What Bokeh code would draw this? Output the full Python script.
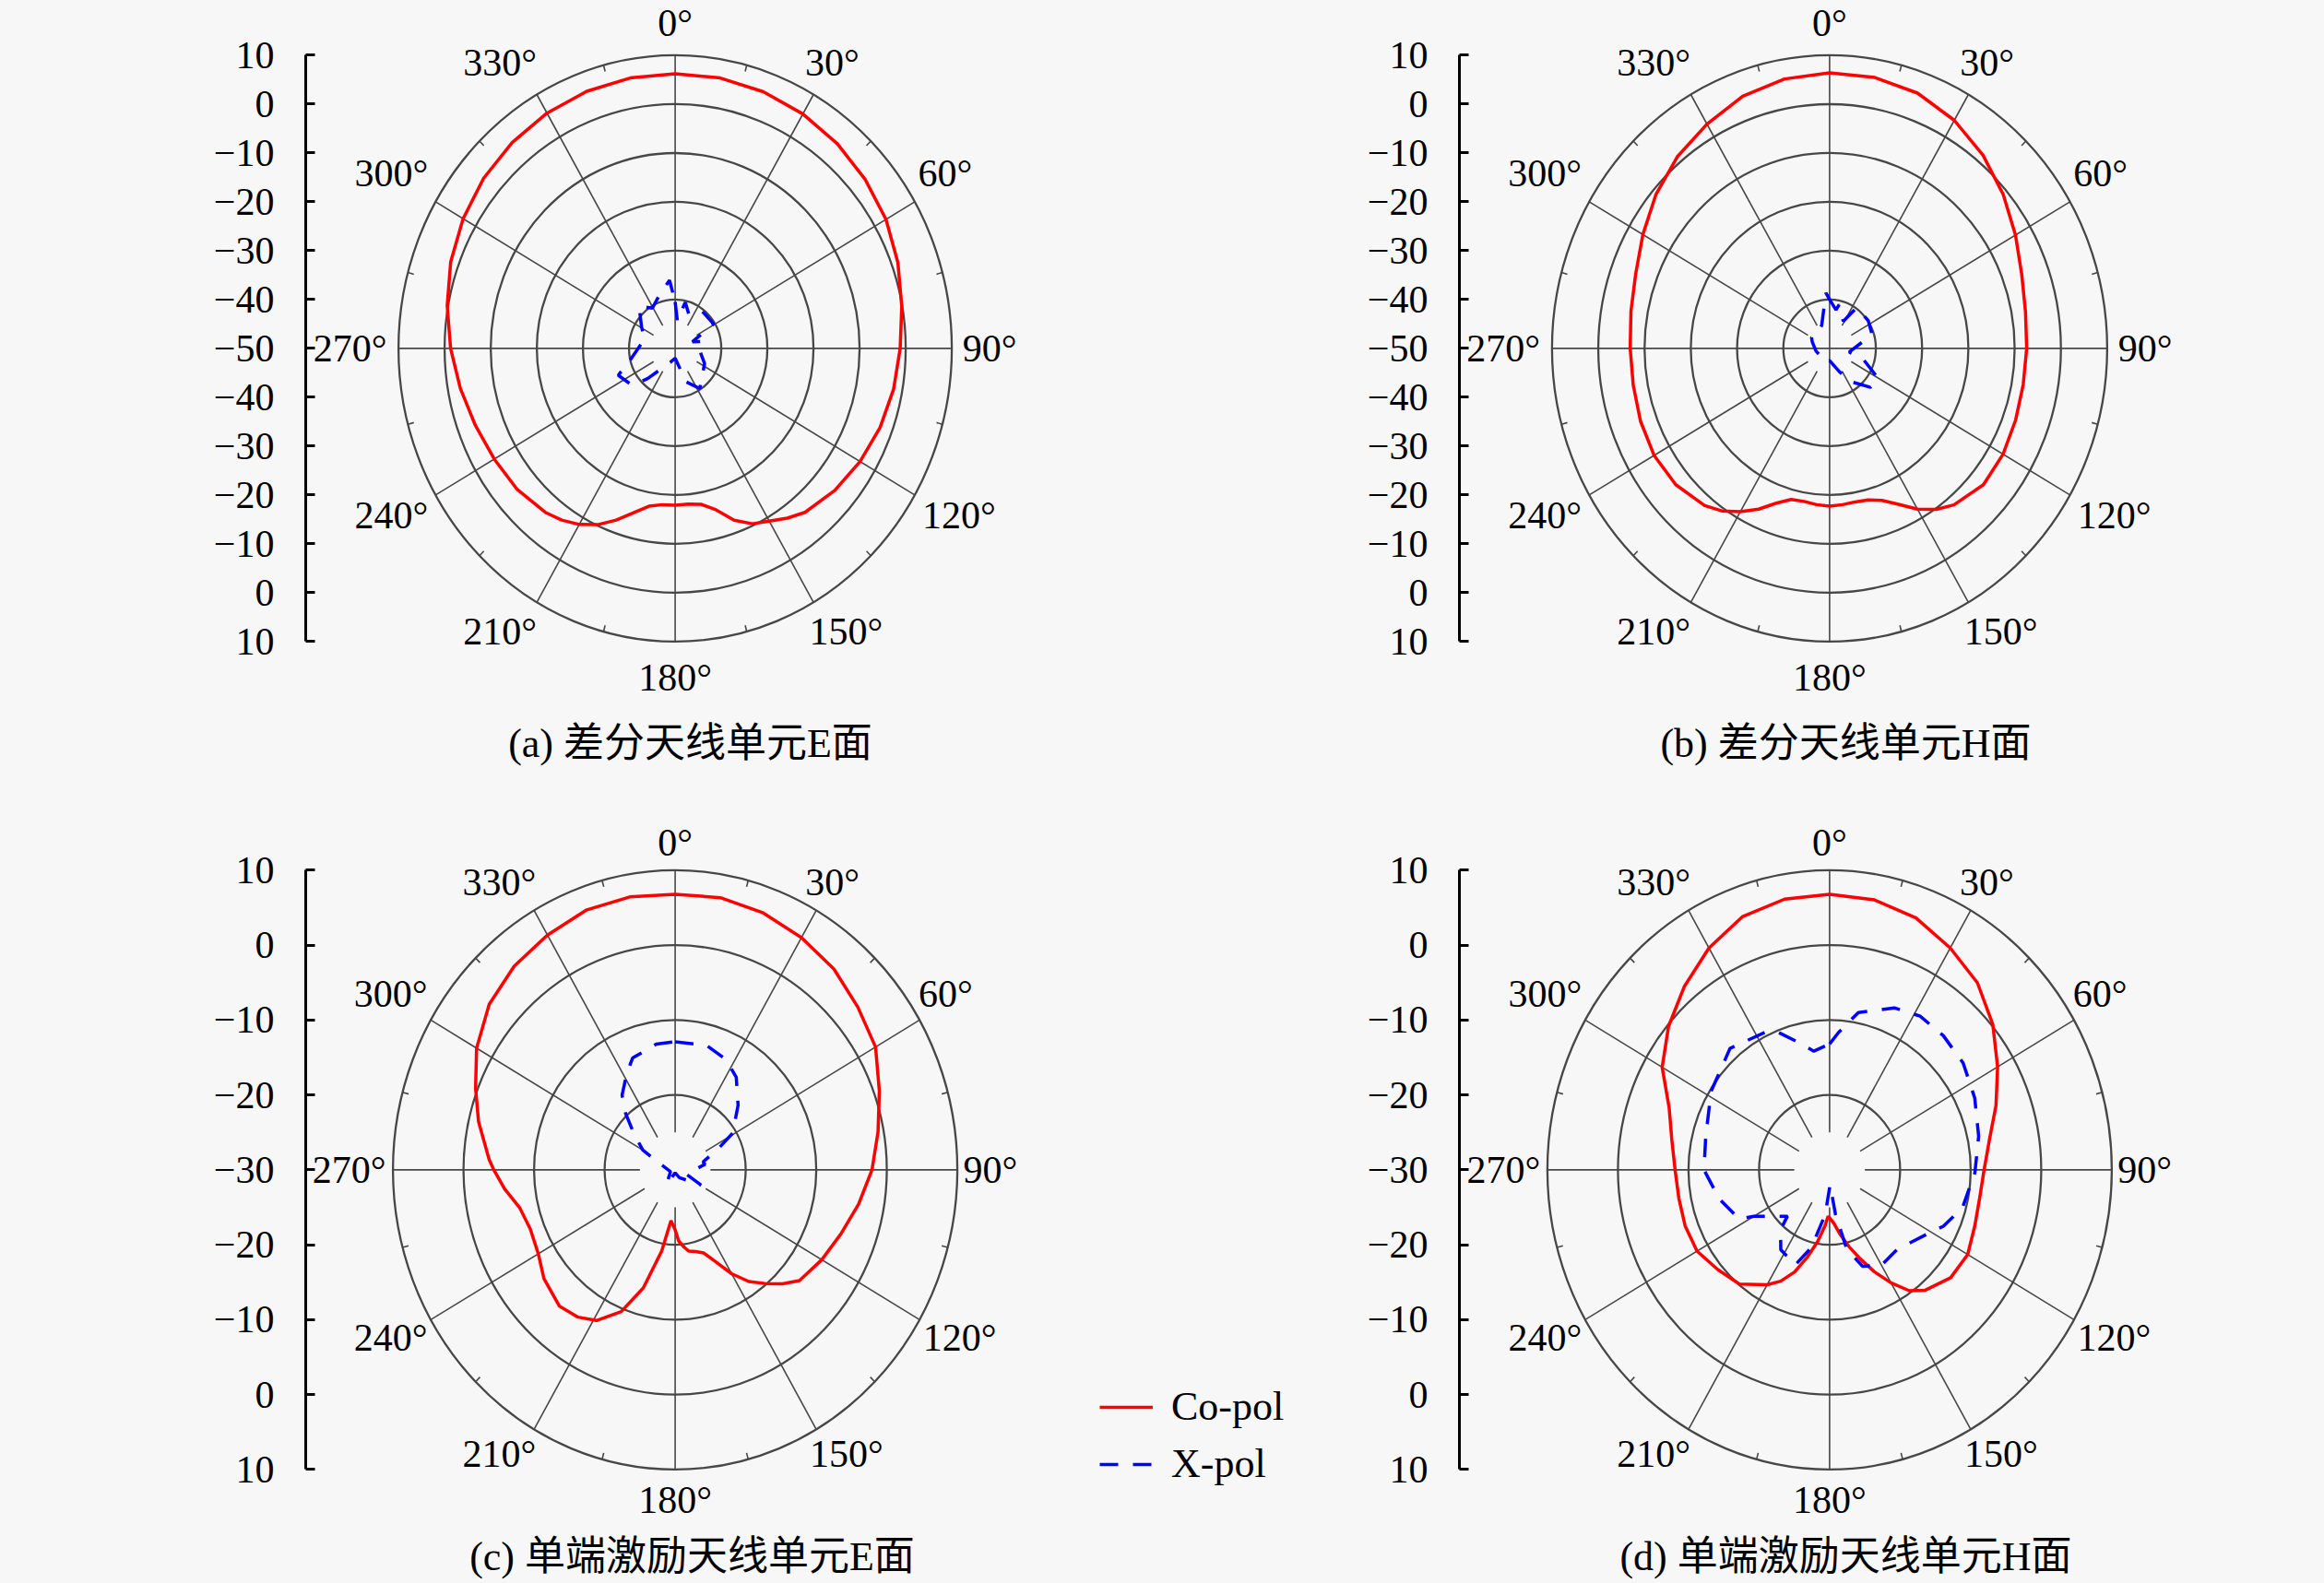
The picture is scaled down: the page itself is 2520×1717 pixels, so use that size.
import numpy as np
from bokeh.plotting import figure
from bokeh.models import (LinearAxis, FixedTicker, Range1d, Legend, LegendItem,
                          ColumnDataSource, Label)
from bokeh.layouts import row, column
from bokeh.embed import file_html
from bokeh.resources import INLINE
from bokeh.core.properties import value

# ---------------- data ----------------
ANGLE_TICKS = [0, 30, 60, 90, 120, 150, 180, 210, 240, 270, 300, 330]
ANGLE_LABELS = ["0°", "30°", "60°", "90°", "120°", "150°", "180°",
                "210°", "240°", "270°", "300°", "330°"]
SERIES_NAMES = ["Co-pol", "X-pol"]
CAPTIONS = ["(a) 差分天线单元E面", "(b) 差分天线单元H面",
            "(c) 单端激励天线单元E面", "(d) 单端激励天线单元H面"]
Y_LABEL = "增益 (dB)"
RMAX = 10
TOP_RMIN = -50
BOT_RMIN = -30
TOP_RINGS = [10, 0, -10, -20, -30, -40]
BOT_RINGS = [10, 0, -10, -20]

# (a) differential element, E plane
A_CO_ANG = [0, 10, 20, 30, 40, 50, 60, 70, 80, 90, 100, 110, 120, 130, 140, 145, 150, 155,
            160, 165, 170, 175, 180, 185, 190, 195, 200, 205, 210, 215, 220, 230, 240, 250,
            260, 270, 280, 290, 300, 310, 320, 330, 340, 350]
A_CO_DB = [6.2, 6.2, 5.9, 5.4, 4.7, 3.8, 2.8, 1.4, -0.1, -1.2, -1.9, -2.7, -3.7, -4.8, -6.2,
           -7.6, -9.2, -10.4, -12.6, -15.8, -17.6, -18.0, -17.9, -17.9, -17.2, -15.2, -12.6,
           -10.2, -8.4, -7.1, -6.2, -5.2, -4.7, -3.9, -2.7, -1.3, 0.2, 1.8, 3.1, 4.2, 5.0,
           5.6, 6.0, 6.2]
A_X_ANG = [0, 5, 13, 23, 38, 59, 70, 77, 96, 116, 147, 161, 180, 200, 224, 231, 246, 257,
           286, 301, 318, 329, 343, 355]
A_X_DB = [-40.5, -44.4, -40.3, -42.4, -40.4, -40.3, -46.0, -43.8, -44.6, -42.9, -40.2, -42.8,
          -48.0, -47.0, -41.4, -38.0, -36.5, -40.1, -43.1, -41.5, -38.3, -40.4, -38.5, -36.0]

# (b) differential element, H plane
B_CO_ANG = A_CO_ANG
B_CO_DB = [6.4, 6.3, 5.6, 3.9, 1.6, -1.0, -3.6, -5.8, -7.0, -7.4, -7.5, -7.2, -6.7, -6.6,
           -8.2, -9.8, -12.0, -14.8, -16.9, -17.9, -18.1, -17.9, -17.7, -17.9, -18.2, -18.0,
           -16.3, -13.7, -11.4, -9.4, -8.0, -6.6, -6.2, -6.5, -6.9, -6.9, -6.4, -5.4, -3.4,
           -1.0, 1.2, 3.0, 4.9, 6.0]
B_X_ANG = [0, 10, 13, 28, 35, 56, 73, 83, 100, 106, 120, 132, 146, 156, 180, 197, 230, 260,
           290, 300, 320, 340, 356]
B_X_DB = [-40.0, -42.0, -40.8, -43.7, -39.8, -39.9, -40.4, -43.6, -45.7, -42.6, -38.0, -38.1,
          -41.8, -44.8, -47.5, -47.0, -47.5, -47.0, -46.0, -45.5, -46.0, -45.0, -38.6]

# (c) single-ended element, E plane
C_CO_ANG = [0, 10, 20, 30, 40, 50, 60, 70, 80, 90, 100, 110, 120, 130, 135, 140, 145, 150,
            155, 160, 165, 170, 173, 177, 180, 185, 190, 196, 202, 209, 215, 222, 232, 240,
            249, 257, 264, 270, 273, 283, 291, 300, 310, 320, 330, 340, 350]
C_CO_DB = [6.8, 6.9, 6.5, 5.8, 5.0, 3.8, 2.8, 0.8, -0.8, -2.1, -3.6, -5.0, -6.0, -7.0, -8.5,
           -10.2, -11.8, -14.0, -16.5, -18.2, -18.7, -19.0, -19.6, -20.5, -22.0, -23.2, -19.0,
           -13.6, -9.6, -7.0, -6.0, -5.5, -6.4, -7.6, -8.0, -7.4, -5.7, -4.3, -3.6, -1.4,
           0.3, 2.5, 4.4, 5.5, 6.2, 6.9, 7.0]
C_X_ANG = [0, 15, 26, 35, 46, 59, 65, 75, 80, 110, 119, 150, 180, 212, 250, 291, 300, 310,
           317, 323, 332, 338, 351]
C_X_DB = [-12.9, -12.8, -13.6, -14.9, -17.6, -20.5, -23.2, -25.9, -25.7, -28.3, -25.8, -28.8,
          -29.6, -27.7, -29.3, -27.7, -24.7, -22.3, -19.7, -17.5, -15.4, -13.9, -13.0]

# (d) single-ended element, H plane
D_CO_ANG = [0, 10, 20, 30, 40, 50, 60, 70, 80, 90, 100, 110, 120, 130, 140, 145, 150, 155,
            160, 165, 170, 175, 180, 182, 185, 190, 195, 200, 205, 210, 220, 230, 240, 250,
            260, 270, 280, 290, 300, 310, 320, 330, 340, 350]
D_CO_DB = [6.8, 6.6, 5.8, 4.2, 2.6, 0.2, -2.5, -4.9, -7.0, -8.1, -8.4, -8.1, -7.4, -7.6, -9.0,
           -10.3, -12.6, -15.0, -17.4, -19.4, -21.2, -22.8, -23.6, -23.8, -22.5, -20.3, -18.0,
           -15.5, -13.6, -12.3, -10.1, -9.3, -8.3, -8.2, -8.3, -8.1, -7.3, -5.8, -2.6, -0.2,
           2.0, 4.2, 6.0, 6.7]
D_X_ANG = [0, 4, 11, 23, 32, 42, 53, 65, 78, 91, 105, 115, 121, 138, 150, 160, 167, 172, 178,
           182, 186, 194, 201, 213, 221, 224, 240, 243, 256, 270, 284, 302, 319, 334, 338, 345,
           352]
D_X_DB = [-13.2, -11.6, -8.6, -6.5, -5.8, -5.9, -6.3, -7.3, -8.4, -9.4, -10.5, -12.2, -13.6,
          -15.7, -15.3, -16.3, -19.1, -24.0, -28.0, -27.0, -24.0, -19.3, -16.4, -17.3, -19.4,
          -21.4, -17.6, -15.6, -13.9, -12.2, -11.9, -10.2, -8.5, -9.5, -10.1, -12.3, -14.0]

# ---------------- styling / layout ----------------
SERIF = "Liberation Serif"
CJK = "Liberation Serif, Noto Sans CJK SC"
GRID = "#474747"
BG = "#f7f7f7"
RED = "#ff0000"
BLUE = "#0000ff"

GEOM = {
    "a": dict(left=0, top=0, w=1405, h=880, axis_x=331, cx=731.6, cy=377.4, rx=300, ry=318,
              lab_r=1.115, spoke_in=0.09, full_main=True, cap=(748, 806), ylab_x=177),
    "b": dict(left=1405, top=0, w=1113, h=880, axis_x=1582, cx=1983.4, cy=377.4, rx=301, ry=318,
              lab_r=1.115, spoke_in=0.09, full_main=True, cap=(2001, 806), ylab_x=1428),
    "c": dict(left=0, top=880, w=1405, h=835, axis_x=331, cx=731.6, cy=1268.4, rx=306, ry=325,
              lab_r=1.095, spoke_in=0.125, full_main=False, cap=(750, 1688), ylab_x=177),
    "d": dict(left=1405, top=880, w=1113, h=835, axis_x=1582, cx=1983.4, cy=1268.4, rx=306, ry=325,
              lab_r=1.095, spoke_in=0.125, full_main=False, cap=(2001, 1688), ylab_x=1428),
}
# small label nudges (fraction of outer radius): outward in x, upward in y
X_NUDGE = {90: 0.012, 210: 0.016, 330: 0.016}
Y_NUDGE = {0: -0.004, 30: 0.01, 330: 0.01, 60: 0.04, 300: 0.04, 120: -0.012, 240: -0.012,
           180: -0.008}


def fmt(v):
    return ("\u2212" + str(abs(v))) if v < 0 else str(v)


def polar_xy(ang_deg, db, rmin):
    a = np.radians(np.asarray(ang_deg, dtype=float))
    rho = np.clip(np.asarray(db, dtype=float) - rmin, 0, None)
    x = rho * np.sin(a)
    y = rho * np.cos(a)
    return list(np.append(x, x[0])), list(np.append(y, y[0]))


def make_panel(key, rmin, rings, co, xp, caption, legend_loc=None):
    g = GEOM[key]
    span = RMAX - rmin
    kx = g["rx"] / span
    ky = g["ry"] / span
    f_left, f_right = g["axis_x"], g["left"] + g["w"]
    f_top, f_bot = g["top"], g["top"] + g["h"]
    p = figure(width=g["w"], height=g["h"],
               x_range=Range1d((f_left - g["cx"]) / kx, (f_right - g["cx"]) / kx),
               y_range=Range1d((g["cy"] - f_bot) / ky, (g["cy"] - f_top) / ky),
               x_axis_type=None, y_axis_type=None, toolbar_location=None,
               output_backend="svg", min_border_left=int(g["axis_x"] - g["left"]),
               min_border_right=0, min_border_top=0, min_border_bottom=0,
               background_fill_color=BG, border_fill_color=BG, outline_line_color=None)

    # rings
    rr = [lv - rmin for lv in rings]
    ring_src = ColumnDataSource(dict(x=[0] * len(rr), y=[0] * len(rr),
                                     w=[2 * r for r in rr], h=[2 * r for r in rr]))
    p.ellipse(x="x", y="y", width="w", height="h", source=ring_src, fill_color=None,
              line_color=GRID, line_width=2.3)

    # spokes
    th = np.radians(ANGLE_TICKS)
    r0 = np.array([0.0 if (g["full_main"] and a % 90 == 0) else g["spoke_in"] * span
                   for a in ANGLE_TICKS])
    p.segment(x0=list(r0 * np.sin(th)), y0=list(r0 * np.cos(th)),
              x1=list(span * np.sin(th)), y1=list(span * np.cos(th)),
              line_color=GRID, line_width=1.6)
    # minor ticks on the outer ring
    mt = np.radians(np.arange(15, 360, 30))
    p.segment(x0=list(0.978 * span * np.sin(mt)), y0=list(0.978 * span * np.cos(mt)),
              x1=list(span * np.sin(mt)), y1=list(span * np.cos(mt)),
              line_color=GRID, line_width=1.6)

    # angle labels (outside the outer ring, wider labels pushed further out)
    nch = np.array([len(s) for s in ANGLE_LABELS])
    s, c = np.sin(th), np.cos(th)
    sgn = np.where(np.abs(s) < 1e-9, 0.0, np.sign(s))
    xn = np.array([X_NUDGE.get(a, 0.0) for a in ANGLE_TICKS])
    yn = np.array([Y_NUDGE.get(a, 0.0) for a in ANGLE_TICKS])
    lx = span * (g["lab_r"] * s + sgn * (0.05 * (nch - 3) + 0.01 + xn))
    ly = span * (g["lab_r"] * c + yn)
    p.text(x=list(lx), y=list(ly), text=ANGLE_LABELS,
           text_font=value(SERIF), text_font_size="42px", text_align="center",
           text_baseline="middle", text_color="black")

    # curves
    xs, ys = polar_xy(co[0], co[1], rmin)
    red = p.line(xs, ys, line_color=RED, line_width=3.5)
    xs, ys = polar_xy(xp[0], xp[1], rmin)
    blue = p.line(xs, ys, line_color=BLUE, line_width=3.5, line_dash="20 16")

    # radial axis on the left
    levels = list(range(RMAX, rmin - 1, -10))
    ticks, overrides = [], {}
    for lv in levels:
        t = int(lv - rmin)
        ticks.append(t)
        overrides[t] = fmt(lv)
    for lv in levels[::-1][1:]:
        t = -int(lv - rmin)
        ticks.append(t)
        overrides[t] = fmt(lv)
    ax = LinearAxis(ticker=FixedTicker(ticks=ticks, minor_ticks=[]),
                    major_label_overrides=overrides, bounds=(-span, span))
    ax.axis_line_width = 3
    ax.axis_line_color = "black"
    ax.major_tick_in = 10
    ax.major_tick_out = 0
    ax.major_tick_line_width = 3
    ax.minor_tick_line_color = None
    ax.major_label_standoff = 34
    ax.major_label_text_font = SERIF
    ax.major_label_text_font_size = "42px"
    ax.major_label_text_color = "black"
    p.add_layout(ax, "left")

    # axis title, centred on the radial axis
    p.add_layout(Label(x=(g["ylab_x"] - g["cx"]) / kx, y=0, text=Y_LABEL, angle=np.pi / 2,
                       text_align="center", text_baseline="middle", text_font=CJK,
                       text_font_size="44px", text_color="black"))

    # caption
    cx, cy = g["cap"]
    p.text(x=[(cx - g["cx"]) / kx], y=[(g["cy"] - cy) / ky], text=[caption],
           text_font=value(CJK), text_font_size="44px", text_align="center",
           text_baseline="middle", text_color="black")

    if legend_loc is not None:
        leg = Legend(items=[LegendItem(label=SERIES_NAMES[0], renderers=[red]),
                            LegendItem(label=SERIES_NAMES[1], renderers=[blue])],
                     location=legend_loc, orientation="vertical",
                     glyph_width=58, glyph_height=40, label_height=40,
                     label_standoff=20, spacing=11, padding=0, margin=0,
                     border_line_color=None, background_fill_alpha=0,
                     label_text_font=SERIF, label_text_font_size="44px",
                     label_text_color="black")
        p.add_layout(leg)
    return p


pa = make_panel("a", TOP_RMIN, TOP_RINGS, (A_CO_ANG, A_CO_DB), (A_X_ANG, A_X_DB), CAPTIONS[0])
pb = make_panel("b", TOP_RMIN, TOP_RINGS, (B_CO_ANG, B_CO_DB), (B_X_ANG, B_X_DB), CAPTIONS[1])
pc = make_panel("c", BOT_RMIN, BOT_RINGS, (C_CO_ANG, C_CO_DB), (C_X_ANG, C_X_DB), CAPTIONS[2],
                legend_loc=(861, 102))
pd = make_panel("d", BOT_RMIN, BOT_RINGS, (D_CO_ANG, D_CO_DB), (D_X_ANG, D_X_DB), CAPTIONS[3])

layout = column(row(pa, pb), row(pc, pd))
html = file_html(layout, INLINE)
html = html.replace("</head>", "<style>html, body { background-color: #f7f7f7; }</style></head>", 1)
open("out.html", "w").write(html)
